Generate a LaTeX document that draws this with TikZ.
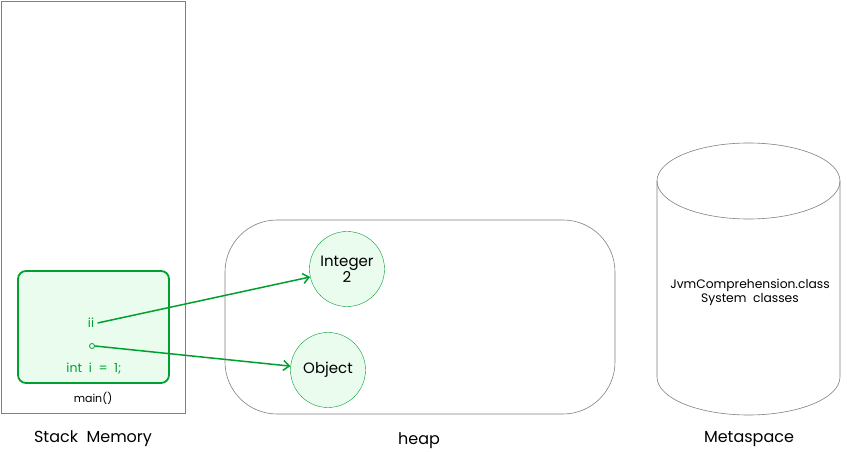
\documentclass[tikz,border=0pt]{standalone}
\usepackage{fontspec}
\setmainfont{Poppins}
\usetikzlibrary{arrows.meta}
\definecolor{jgreen}{HTML}{00A030}
\definecolor{jfill}{HTML}{EAFCEE}
\definecolor{jgray}{HTML}{808080}
\tikzstyle{obj}=[circle, draw=jgreen, fill=jfill, minimum size=75pt, inner sep=0pt, align=center, font=\fontsize{15}{18}\selectfont]
\tikzstyle{ref}=[draw=jgreen, line width=1.5pt, -{Straight Barb[length=6pt, width=10pt]}]
\tikzstyle{area}=[draw=jgray, line width=0.6pt]
\tikzstyle{title}=[font=\fontsize{16}{18}\selectfont]

\begin{document}
\begin{tikzpicture}[x=1pt, y=-1pt]
                    \useasboundingbox (0, 0) rectangle (847, 454);
                    % stack
                    \draw[area] (1, 1) rectangle (185, 413);
                    \draw[jgreen, fill=jfill, line width=1.8pt, rounded corners=8pt] (18, 271) rectangle (169, 383);
                    \node[text=jgreen, font=\fontsize{12.5}{14}\selectfont] (ii) at (91, 323) {ii};
                    \node[circle, draw=jgreen, thick, inner sep=0pt, minimum size=5pt] (o) at (92, 346) {};
                    \node[text=jgreen, font=\fontsize{12.5}{14}\selectfont] (int) at (94, 369) {int\ \ i\ \ =\ \ 1;};
                    \node[font=\fontsize{11}{12}\selectfont] (main) at (93, 398) {main()};
                    \node[title] (stack) at (93, 439) {Stack\ \ Memory};
                    % heap
                    \draw[area, rounded corners=52pt] (225, 220) rectangle (615, 414);
                    \node[obj] (integer) at (347, 269) {Integer\\[-2pt]2};
                    \node[obj] (object) at (328, 370) {Object};
                    \node[title] (heap) at (419, 441) {heap};
                    % metaspace
                    \draw[area, fill=white] (657, 181) -- (657, 377) arc[start angle=180, end angle=0, x radius=91.5, y radius=38] -- (840, 181);
                    \draw[area] (748.5, 181) ellipse[x radius=91.5, y radius=38];
                    \node[align=center, font=\fontsize{12.3}{14}\selectfont] (cls) at (750, 292) {JvmComprehension.class\\System\ \ classes};
                    \node[title] (meta) at (749, 439) {Metaspace};
                    \draw[ref] (ii.east) -- (integer);
                    \draw[ref] (o.east) -- (object);
                \end{tikzpicture}
\end{document}
